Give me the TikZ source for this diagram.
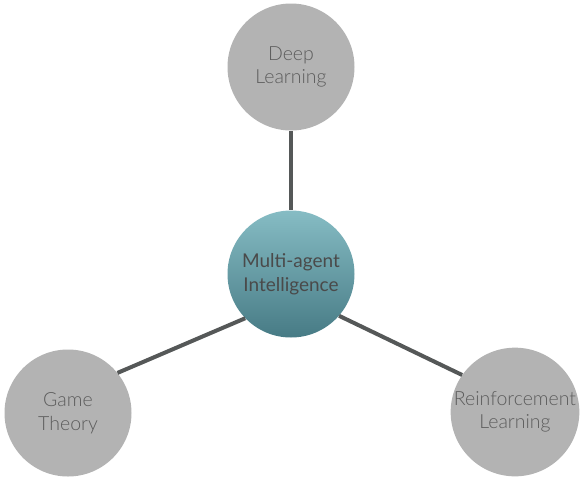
\documentclass[tikz,border=0pt]{standalone}
\usepackage{fontspec}
\setmainfont{Lato}
\newfontfamily\lightfont{Lato Light}
\usetikzlibrary{positioning}

\definecolor{topicfill}{HTML}{B3B3B3}
\definecolor{topictext}{HTML}{5C5C5C}
\definecolor{hubtop}{HTML}{86BCC4}
\definecolor{hubbottom}{HTML}{477B85}
\definecolor{hubtext}{HTML}{4A4A4A}
\definecolor{linkgray}{HTML}{555858}

\begin{document}
\begin{tikzpicture}[x=1pt,y=-1pt,
    topic/.style={circle,fill=topicfill,minimum size=127pt,inner sep=0pt,align=center,
      text=topictext,font=\lightfont\fontsize{19.5}{23.5}\selectfont},
    hub/.style={circle,top color=hubtop,bottom color=hubbottom,minimum size=127pt,inner sep=0pt,
      align=center,text=hubtext,font=\fontsize{19}{24}\selectfont},
    link/.style={draw=linkgray,line width=4pt}]
        \useasboundingbox (0,0) rectangle (582,483);
        \node[hub] (mai) at (291,274) {Multi-agent\\Intelligence};
        \node[topic] (dl) at (291,67) {Deep\\Learning};
        \node[topic] (gt) at (68,413) {Game\\Theory};
        \node[topic] (rl) at (515,412) {Reinforcement\\Learning};
        \draw[link] (dl) -- (mai);
        \draw[link] (mai.224) -- (gt.39);
        \draw[link] (mai.319) -- (rl.145);
    \end{tikzpicture}
\end{document}
